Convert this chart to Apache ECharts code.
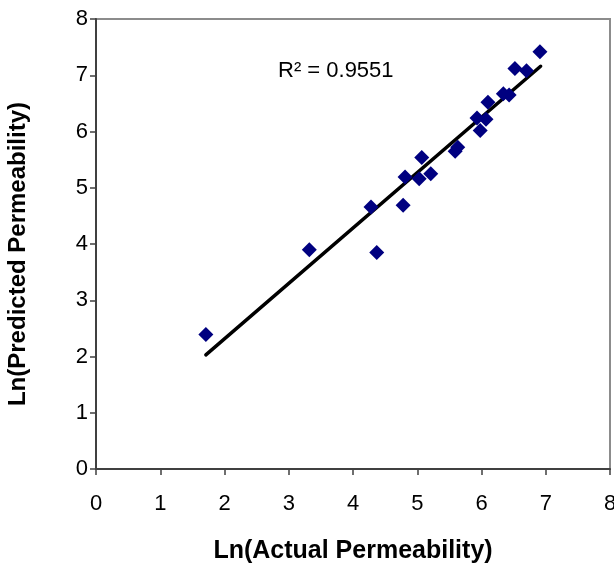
<!DOCTYPE html>
<html>
<head>
<meta charset="utf-8">
<script src="https://cdn.jsdelivr.net/npm/echarts@6/dist/echarts.min.js"></script>
<style>
html,body{margin:0;padding:0;background:#fff;}
#chart{width:614px;height:569px;}
</style>
</head>
<body>
<div id="chart"></div>
<script>
// Measured points: Ln(Actual Permeability) vs Ln(Predicted Permeability)
var actualLn = [1.71, 3.32, 4.28, 4.37, 4.78, 4.81, 5.07, 5.03, 5.21, 5.59, 5.63, 5.93, 5.98, 6.07, 6.10, 6.34, 6.43, 6.52, 6.70, 6.91];
var predictedLn = [2.39, 3.90, 4.66, 3.85, 4.69, 5.19, 5.54, 5.16, 5.25, 5.65, 5.72, 6.24, 6.02, 6.22, 6.52, 6.67, 6.65, 7.12, 7.08, 7.42];
// Linear trendline end points
var trendX = [1.71, 6.92];
var trendY = [2.03, 7.16];
var xTicks = [0, 1, 2, 3, 4, 5, 6, 7, 8];
var yTicks = [0, 1, 2, 3, 4, 5, 6, 7, 8];
var r2Label = 'R\u00B2 = 0.9551';
var xTitle = 'Ln(Actual Permeability)';
var yTitle = 'Ln(Predicted Permeability)';

var FONT = '"Liberation Sans", Arial, sans-serif';
var points = actualLn.map(function (x, i) { return [x, predictedLn[i]]; });
var trend = trendX.map(function (x, i) { return [x, trendY[i]]; });

var chart = echarts.init(document.getElementById('chart'), null, {renderer: 'canvas'});
chart.setOption({
  animation: false,
  backgroundColor: '#ffffff',
  grid: {
    left: 96, right: 4, top: 19, bottom: 100,
    outerBoundsMode: 'none', containLabel: false,
    show: true, borderColor: '#8c8c8c', borderWidth: 2, backgroundColor: 'transparent'
  },
  xAxis: {
    type: 'value', min: xTicks[0], max: xTicks[xTicks.length - 1], interval: 1,
    name: xTitle, nameLocation: 'middle', nameGap: 70,
    nameTextStyle: {fontFamily: FONT, fontWeight: 'bold', fontSize: 25, color: '#000'},
    axisLine: {show: true, onZero: false, lineStyle: {color: '#404040', width: 2}},
    axisTick: {show: true, inside: false, length: 6, lineStyle: {color: '#404040', width: 1.5}},
    axisLabel: {fontFamily: FONT, fontSize: 22, color: '#000', margin: 24, showMaxLabel: true},
    splitLine: {show: false}
  },
  yAxis: {
    type: 'value', min: yTicks[0], max: yTicks[yTicks.length - 1], interval: 1,
    name: yTitle, nameLocation: 'middle', nameGap: 66, nameRotate: 90,
    nameTextStyle: {fontFamily: FONT, fontWeight: 'bold', fontSize: 24, color: '#000', padding: [0, 20, 0, 0]},
    axisLine: {show: true, onZero: false, lineStyle: {color: '#404040', width: 2}},
    axisTick: {show: true, inside: false, length: 6, lineStyle: {color: '#404040', width: 1.5}},
    axisLabel: {fontFamily: FONT, fontSize: 22, color: '#000', margin: 8},
    splitLine: {show: false}
  },
  series: [
    {
      type: 'line', data: trend, symbol: 'none',
      lineStyle: {color: '#000', width: 3.5, cap: 'round'}, z: 2, silent: true
    },
    {
      type: 'scatter', data: points, symbol: 'diamond', symbolSize: [15, 15],
      itemStyle: {color: '#000080', opacity: 1}, z: 3
    }
  ],
  graphic: [{
    type: 'text', left: 278, top: 60,
    style: {text: r2Label, font: '22px ' + FONT, fill: '#000'}
  }]
});
</script>
</body>
</html>
